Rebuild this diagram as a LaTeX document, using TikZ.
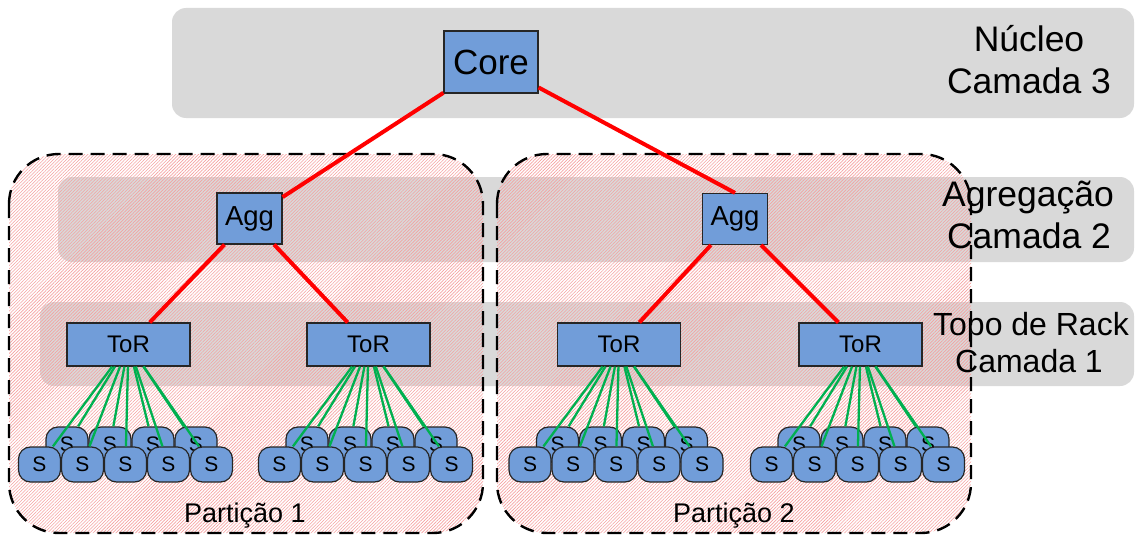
\documentclass[tikz,border=0pt]{standalone}
\usepackage{fontspec}
\setmainfont{Liberation Sans}
\usetikzlibrary{patterns.meta}
\definecolor{nodeblue}{RGB}{113,157,217}
\definecolor{bandgray}{RGB}{217,217,217}
\definecolor{linkgreen}{RGB}{0,176,80}
\definecolor{hatchred}{RGB}{245,160,160}

\begin{document}
\begin{tikzpicture}[x=1pt,y=-1pt,
  box/.style={draw=black!85, line width=1.2pt, fill=nodeblue, inner sep=0pt},
  corebox/.style={box, minimum width=94pt, minimum height=62pt, font=\fontsize{35}{40}\selectfont},
  aggbox/.style={box, minimum width=65pt, minimum height=51pt, font=\fontsize{27.5}{32}\selectfont},
  torbox/.style={box, minimum width=123pt, minimum height=43pt, font=\fontsize{24}{28}\selectfont},
  server/.style={box, rounded corners=12pt, minimum width=42pt, minimum height=35pt, font=\fontsize{21}{24}\selectfont},
  band/.style={fill=bandgray, rounded corners=14pt},
  partition/.style={draw=black, line width=2.4pt, dash pattern=on 14pt off 8pt,
    rounded corners=50pt, pattern={Lines[angle=45,distance=2.3pt,line width=0.6pt]},
    pattern color=hatchred},
  uplink/.style={red, line width=4pt},
  downlink/.style={linkgreen, line width=2.3pt},
  layer/.style={anchor=base, inner sep=0pt, font=\fontsize{35.5}{40}\selectfont},
  layersmall/.style={layer, font=\fontsize{32}{37}\selectfont},
  plabel/.style={anchor=base, inner sep=0pt, font=\fontsize{27}{32}\selectfont}
]
\useasboundingbox (0,0) rectangle (1136,535);

% layer bands
\fill[band] (172,8) rectangle (1134,118);
\fill[band] (58,177) rectangle (1134,262);
\fill[band] (40,302) rectangle (1134,386);

% partitions
\draw[partition] (9,154) rectangle (483,533);
\draw[partition] (497,154) rectangle (971,533);
\node[plabel] (p1) at (245,522) {Partição 1};
\node[plabel] (p2) at (734,522) {Partição 2};

% layer names
\node[layer] (l3a) at (1029,51.7) {Núcleo};
\node[layer] (l3b) at (1029,93.3) {Camada 3};
\node[layer] (l2a) at (1028,206.7) {Agregação};
\node[layer] (l2b) at (1029,248.3) {Camada 2};
\node[layersmall] (l1a) at (1031,335) {Topo de Rack};
\node[layersmall] (l1b) at (1029,372.7) {Camada 1};

% switches
\node[corebox] (core) at (491,62) {Core};
\node[aggbox] (agg1) at (249.5,218.5) {Agg};
\node[aggbox] (agg2) at (735,219) {Agg};

\foreach \i/\cx in {1/128.5,2/368.5,3/619,4/860.5} {
  \node[torbox] (tor\i) at (\cx,344.5) {ToR};
  \foreach \j/\dx in {1/-61.5,2/-18.5,3/24.5,4/67.5}
    \node[server] (b\i\j) at (\cx+\dx,444.5) {S};
  \foreach \j/\dx in {1/-89,2/-46,3/-3,4/40,5/83}
    \node[server] (f\i\j) at (\cx+\dx,464.5) {S};
}

% links
\draw[uplink] (core) -- (agg1);
\draw[uplink] (core) -- (agg2.north);
\draw[uplink] (agg1) -- (tor1);
\draw[uplink] (agg1) -- (tor2);
\draw[uplink] (agg2) -- (tor3);
\draw[uplink] (agg2) -- (tor4);

\foreach \i in {1,...,4} {
  \foreach \j in {1,...,4}
    \draw[downlink] (tor\i) -- (b\i\j);
  \foreach \j in {1,...,5}
    \draw[downlink] (tor\i) -- (f\i\j);
}
\end{tikzpicture}
\end{document}
